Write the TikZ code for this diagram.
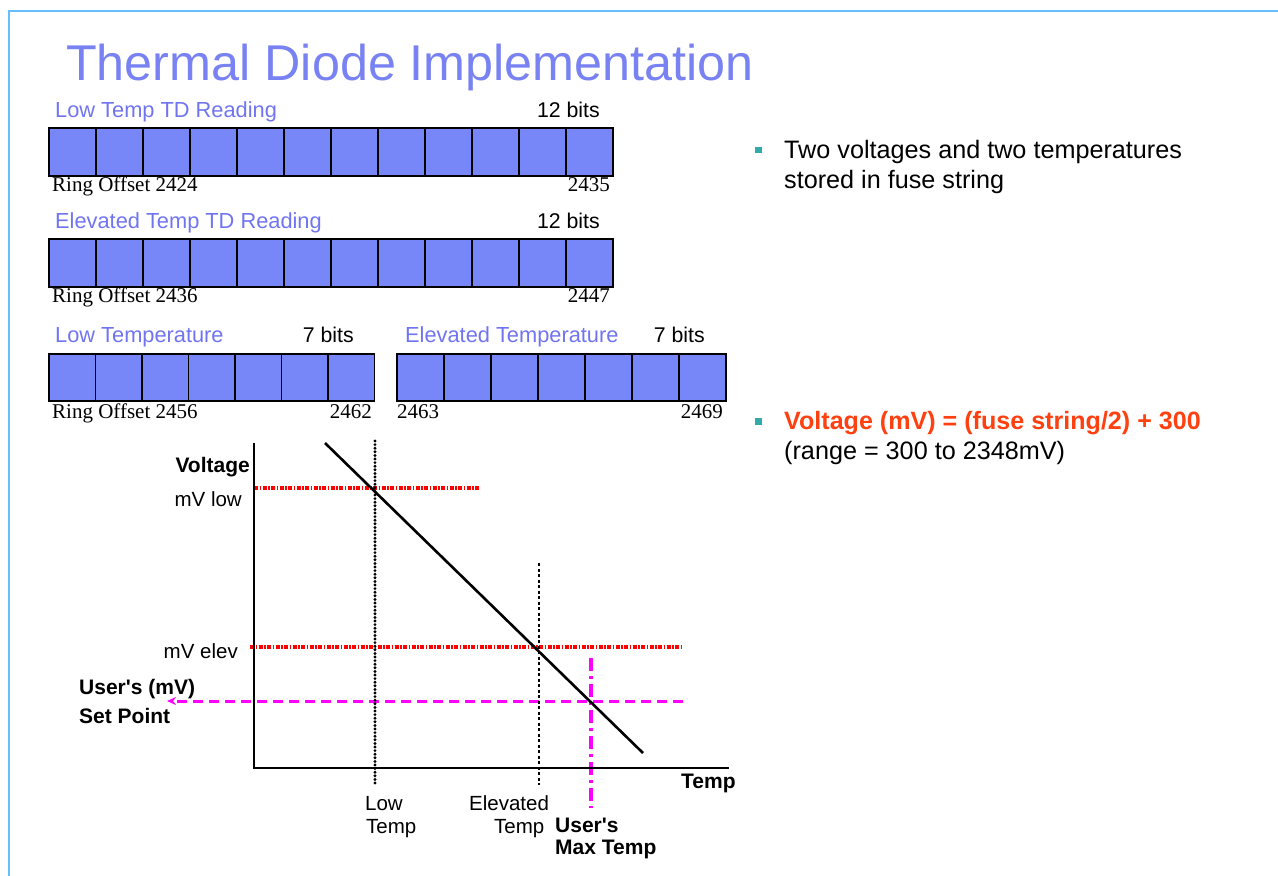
\documentclass[tikz,border=0pt]{standalone}
\usepackage{fontspec}
\setmainfont{Liberation Sans}[Ligatures=TeXOff]
\newfontfamily\timesfont{Liberation Serif}
\usetikzlibrary{arrows.meta}

\definecolor{framec}{RGB}{102,190,255}
\definecolor{titlec}{RGB}{120,130,242}
\definecolor{groupc}{RGB}{112,116,240}
\definecolor{cellc}{RGB}{119,135,248}
\definecolor{bulletc}{RGB}{51,170,170}
\definecolor{formulac}{RGB}{255,64,16}
\definecolor{userc}{RGB}{255,0,255}

\begin{document}
\begin{tikzpicture}[x=1pt,y=-1pt,
  txt/.style={inner sep=0pt, anchor=base west, font=\fontsize{20.5}{24}\selectfont},
  txtr/.style={txt, anchor=base east},
  grouplbl/.style={txt, text=groupc, font=\fontsize{21.8}{26}\selectfont},
  bitslbl/.style={txt, anchor=base east, font=\fontsize{21.3}{26}\selectfont},
  ringlbl/.style={inner sep=0pt, anchor=base west, font=\timesfont\fontsize{21}{24}\selectfont},
  ringlblr/.style={ringlbl, anchor=base east},
  boldlbl/.style={txt, font=\fontsize{21}{24}\selectfont\bfseries},
  bodytxt/.style={inner sep=0pt, anchor=base west, font=\fontsize{25.2}{30}\selectfont},
  bitcell/.style={draw=black, line width=1.8pt, fill=cellc, inner sep=0pt, anchor=north west},
  bulletsq/.style={fill=bulletc, draw=none, inner sep=0pt, minimum size=6.5pt},
  axisline/.style={line width=2.2pt},
  trendline/.style={line width=2.6pt},
  mvline/.style={red, line width=3.4pt, dash pattern=on 4pt off 1.5pt on 1.5pt off 1.5pt},
  lowtempline/.style={line width=3.2pt, dash pattern=on 0pt off 3.6pt, line cap=round},
  elevtempline/.style={line width=1.5pt, dash pattern=on 3pt off 2.5pt},
  setpointline/.style={userc, line width=3pt, dash pattern=on 10pt off 6pt},
  maxtempline/.style={userc, line width=3.4pt, dash pattern=on 13pt off 5pt on 3pt off 5pt}
]
\useasboundingbox (0,0) rectangle (1278,876);

% frame of the slide
\draw[framec, line width=2pt] (1278,11) -- (9,11) -- (9,876);

% title
\node[inner sep=0pt, anchor=base west, text=titlec, font=\fontsize{50.3}{60}\selectfont] (title) at (66,80) {Thermal Diode Implementation};

% ---- low temperature thermal diode reading, 12 bits
\node[grouplbl] (lowtdlbl) at (55,117) {Low Temp TD Reading};
\node[bitslbl] (lowtdbits) at (600,117) {12 bits};
\foreach \i in {0,...,11}
  \node[bitcell, minimum width=47pt, minimum height=48pt] (lowtd\i) at ({48+47*\i},127) {};
\node[ringlbl] (lowtdfirst) at (52,191) {Ring Offset 2424};
\node[ringlblr] (lowtdlast) at (610,191) {2435};

% ---- elevated temperature thermal diode reading, 12 bits
\node[grouplbl] (eltdlbl) at (55,228) {Elevated Temp TD Reading};
\node[bitslbl] (eltdbits) at (600,228) {12 bits};
\foreach \i in {0,...,11}
  \node[bitcell, minimum width=47pt, minimum height=48pt] (eltd\i) at ({48+47*\i},238) {};
\node[ringlbl] (eltdfirst) at (52,302) {Ring Offset 2436};
\node[ringlblr] (eltdlast) at (610,302) {2447};

% ---- low temperature, 7 bits
\node[grouplbl] (lowtlbl) at (55,342) {Low Temperature};
\node[bitslbl] (lowtbits) at (354,342) {7 bits};
\foreach \i in {0,...,6}
  \node[bitcell, minimum width=46.5pt, minimum height=47pt] (lowt\i) at ({48+46.5*\i},353) {};
\node[ringlbl] (lowtfirst) at (52,418) {Ring Offset 2456};
\node[ringlblr] (lowtlast) at (372,418) {2462};

% ---- elevated temperature, 7 bits
\node[grouplbl] (eltlbl) at (405,342) {Elevated Temperature};
\node[bitslbl] (eltbits) at (705,342) {7 bits};
\foreach \i in {0,...,6}
  \node[bitcell, minimum width=47pt, minimum height=47pt] (elt\i) at ({396+47*\i},353) {};
\node[ringlbl] (eltfirst) at (397,418) {2463};
\node[ringlblr] (eltlast) at (723,418) {2469};

% ---- voltage versus temperature graph
\coordinate (ytop) at (254,443);
\coordinate (xend) at (729,768);
\coordinate (vstart) at (325,443);
\coordinate (vend) at (643,753);
\coordinate (lowtop) at (375,441);
\coordinate (lowbot) at (375,785);
\coordinate (mvlowL) at (254,488);
\coordinate (mvlowR) at (480,488);
\coordinate (elevtop) at (539,563);
\coordinate (elevbot) at (539,785);
\coordinate (mvelevL) at (250,647);
\coordinate (mvelevR) at (681,647);
\coordinate (setR) at (683,701);
\coordinate (setL) at (167,701);
\coordinate (maxtop) at (591,658);
\coordinate (maxbot) at (591,808);

\draw[mvline] (mvlowL) -- (mvlowR);
\draw[mvline] (mvelevL) -- (mvelevR);
\draw[setpointline, -{Stealth[length=9pt,width=8pt]}] (setR) -- (setL);
\draw[maxtempline] (maxtop) -- (maxbot);
\draw[lowtempline] (lowtop) -- (lowbot);
\draw[elevtempline] (elevtop) -- (elevbot);
\draw[axisline] (ytop) |- (xend);
\draw[trendline] (vstart) -- (vend);

\node[boldlbl, anchor=base east] (voltlbl) at (250,472) {Voltage};
\node[txtr] (mvlowlbl) at (242,506) {mV low};
\node[txtr] (mvelevlbl) at (238,658) {mV elev};
\node[boldlbl] (setlbl1) at (79,694) {User's (mV)};
\node[boldlbl] (setlbl2) at (79,723) {Set Point};
\node[boldlbl] (templbl) at (681,788) {Temp};
\node[txt] (lowlbl1) at (365,810) {Low};
\node[txt] (lowlbl2) at (366,833) {Temp};
\node[txt] (elevlbl1) at (469,810) {Elevated};
\node[txt] (elevlbl2) at (494,833) {Temp};
\node[boldlbl] (maxlbl1) at (555,832) {User's};
\node[boldlbl] (maxlbl2) at (555,854) {Max Temp};

% ---- notes on the right
\node[bulletsq] (bullet1) at (758.5,150) {};
\node[bodytxt] (note1a) at (784,158) {Two voltages and two temperatures};
\node[bodytxt] (note1b) at (784,188) {stored in fuse string};
\node[bulletsq] (bullet2) at (758.5,421.5) {};
\node[bodytxt, text=formulac, font=\fontsize{25.1}{30}\selectfont\bfseries] (note2a) at (784,429) {Voltage (mV) = (fuse string/2) + 300};
\node[bodytxt] (note2b) at (784,459) {(range = 300 to 2348mV)};
\end{tikzpicture}
\end{document}
